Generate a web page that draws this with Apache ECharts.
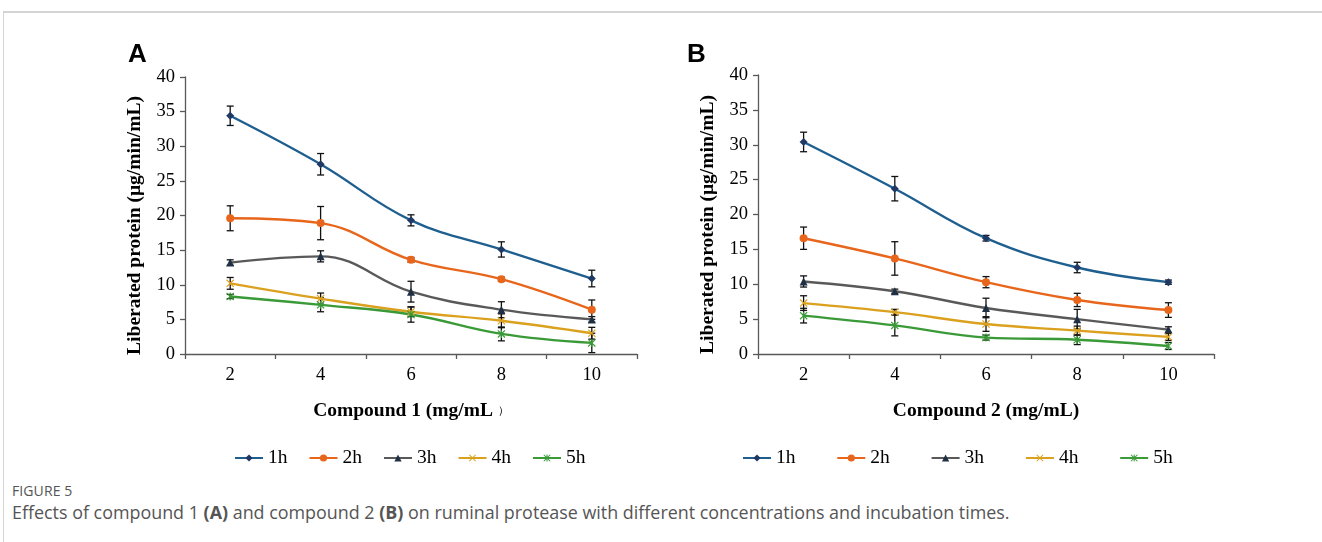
<!DOCTYPE html>
<html>
<head>
<meta charset="utf-8">
<script src="https://cdn.jsdelivr.net/npm/echarts@6/dist/echarts.min.js"></script>
<style>
  html, body { margin: 0; padding: 0; background: #fff; }
  #frame { position: absolute; left: 3px; top: 11px; width: 1330px; height: 540px;
           border-top: 2px solid #d4d4d4; border-left: 1px solid #d4d4d4; }
  #chart { position: absolute; left: 0; top: 0; width: 1322px; height: 475px; }
  #caption { position: absolute; left: 12px; top: 481px; font-family: 'Open Sans', sans-serif; color: #555; }
  #caption .fig { font-size: 14px; letter-spacing: 0.1px; }
  #caption .txt { font-size: 17.9px; margin-top: 0px; }
</style>
</head>
<body>
<div id="frame"></div>
<div id="chart"></div>
<div id="caption">
  <div class="fig">FIGURE 5</div>
  <div class="txt">Effects of compound 1 <b>(A)</b> and compound 2 <b>(B)</b> on ruminal protease with different concentrations and incubation times.</div>
</div>
<script>
const categories = ['2', '4', '6', '8', '10'];
const seriesNames = ['1h', '2h', '3h', '4h', '5h'];

// compound 1 (panel A): means and error bar half-lengths
const c1Mean1h = [34.4, 27.4, 19.3, 15.1, 10.9];
const c1Err1h = [1.4, 1.55, 0.8, 1.1, 1.2];
const c1Mean2h = [19.6, 18.9, 13.6, 10.8, 6.4];
const c1Err2h = [1.8, 2.4, 0.35, 0.3, 1.4];
const c1Mean3h = [13.2, 14.1, 9.0, 6.4, 5.0];
const c1Err3h = [0.4, 0.8, 1.5, 1.15, 0.4];
const c1Mean4h = [10.2, 8.0, 6.1, 4.8, 3.0];
const c1Err4h = [0.85, 0.8, 0.7, 1.0, 0.85];
const c1Mean5h = [8.3, 7.1, 5.7, 2.9, 1.6];
const c1Err5h = [0.3, 1.0, 1.1, 1.0, 1.4];

// compound 2 (panel B)
const c2Mean1h = [30.4, 23.7, 16.6, 12.4, 10.3];
const c2Err1h = [1.4, 1.75, 0.4, 0.75, 0.3];
const c2Mean2h = [16.6, 13.7, 10.3, 7.75, 6.3];
const c2Err2h = [1.6, 2.4, 0.8, 0.95, 1.05];
const c2Mean3h = [10.4, 9.0, 6.6, 5.0, 3.5];
const c2Err3h = [0.8, 0.3, 1.4, 1.4, 0.4];
const c2Mean4h = [7.3, 6.0, 4.3, 3.35, 2.45];
const c2Err4h = [1.05, 0.4, 1.05, 0.65, 0.5];
const c2Mean5h = [5.5, 4.1, 2.35, 2.05, 1.15];
const c2Err5h = [1.05, 1.5, 0.35, 0.7, 0.5];

const serif = "'Times New Roman', 'Liberation Serif', serif";
const xShape = 'path://M0,1L1,0L5,4L9,0L10,1L6,5L10,9L9,10L5,6L1,10L0,9L4,5Z';
const starShape = 'path://M0,1L1,0L5,4L9,0L10,1L6,5L10,9L9,10L5,6L1,10L0,9L4,5Z M4.3,0L5.7,0L5.7,10L4.3,10Z';

const styles = [
  { line: '#1f5f8f', marker: '#1f3864', symbol: 'diamond', size: 8 },
  { line: '#e8661c', marker: '#e8661c', symbol: 'circle', size: 8 },
  { line: '#595959', marker: '#1f2f44', symbol: 'triangle', size: 8 },
  { line: '#dba11e', marker: '#dba11e', symbol: xShape, size: 8 },
  { line: '#3a9a38', marker: '#3a9a38', symbol: starShape, size: 8 }
];

function lineSeries(idx, k, means) {
  const s = styles[k];
  return {
    name: seriesNames[k],
    type: 'line',
    xAxisIndex: idx,
    yAxisIndex: idx,
    smooth: 0.4,
    symbol: s.symbol,
    symbolSize: s.size,
    showAllSymbol: true,
    lineStyle: { color: s.line, width: 2.4 },
    itemStyle: { color: s.marker },
    z: 3,
    data: means
  };
}

function errorSeries(idx, means, errs) {
  return {
    type: 'custom',
    xAxisIndex: idx,
    yAxisIndex: idx,
    silent: true,
    z: 2,
    data: means.map((m, i) => [i, m - errs[i], m + errs[i]]),
    encode: { x: 0, y: [1, 2] },
    renderItem: function (params, api) {
      const lo = api.coord([api.value(0), api.value(1)]);
      const hi = api.coord([api.value(0), api.value(2)]);
      const w = 3.5;
      const style = { stroke: '#111', lineWidth: 1.3, fill: null };
      return {
        type: 'group',
        children: [
          { type: 'line', shape: { x1: lo[0], y1: lo[1], x2: hi[0], y2: hi[1] }, style: style },
          { type: 'line', shape: { x1: lo[0] - w, y1: lo[1], x2: lo[0] + w, y2: lo[1] }, style: style },
          { type: 'line', shape: { x1: hi[0] - w, y1: hi[1], x2: hi[0] + w, y2: hi[1] }, style: style }
        ]
      };
    }
  };
}

function xAxisFor(idx, name) {
  return {
    type: 'category',
    gridIndex: idx,
    data: categories,
    boundaryGap: true,
    axisLine: { lineStyle: { color: '#595959', width: 1.3 } },
    axisTick: { show: true, length: 5, lineStyle: { color: '#595959', width: 1.3 } },
    axisLabel: { color: '#000', fontFamily: serif, fontSize: 18.5, margin: 12 },
    name: name,
    nameLocation: 'middle',
    nameGap: 47,
    nameTextStyle: {
      color: '#000', fontFamily: serif, fontSize: 19.5, fontWeight: 'bold',
      rich: { s: { fontSize: 11, fontWeight: 'normal', color: '#000' } }
    }
  };
}

function yAxisFor(idx) {
  return {
    type: 'value',
    gridIndex: idx,
    min: 0,
    max: 40,
    interval: 5,
    splitLine: { show: false },
    axisLine: { show: true, lineStyle: { color: '#595959', width: 1.3 } },
    axisTick: { show: true, length: 5, lineStyle: { color: '#595959', width: 1.3 } },
    axisLabel: { color: '#000', fontFamily: serif, fontSize: 18.5, margin: 10 },
    name: 'Liberated protein (μg/min/mL)',
    nameLocation: 'middle',
    nameRotate: 90,
    nameGap: 40,
    nameTextStyle: { color: '#000', fontFamily: serif, fontSize: 19.5, fontWeight: 'bold', padding: [0, 20, 0, 0] }
  };
}

function legendFor(left, gap) {
  return {
    data: seriesNames,
    left: left,
    top: 443,
    itemGap: gap,
    itemWidth: 28,
    itemHeight: 9,
    selectedMode: false,
    textStyle: { color: '#000', fontFamily: serif, fontSize: 19.5 }
  };
}

const myChart = echarts.init(document.getElementById('chart'));
const option = {
  animation: false,
  title: [
    { text: 'A', left: 123, top: 37, textStyle: { fontFamily: 'Liberation Sans, Arial', fontWeight: 'bold', fontSize: 26, color: '#000' } },
    { text: 'B', left: 682, top: 37, textStyle: { fontFamily: 'Liberation Sans, Arial', fontWeight: 'bold', fontSize: 26, color: '#000' } }
  ],
  grid: [
    { left: 185, top: 77, width: 452, height: 277 },
    { left: 758, top: 75, width: 456, height: 279 }
  ],
  xAxis: [
    xAxisFor(0, 'Compound 1 (mg/mL {s|）}'),
    xAxisFor(1, 'Compound 2 (mg/mL)')
  ],
  yAxis: [yAxisFor(0), yAxisFor(1)],
  legend: [legendFor(229, 21), legendFor(737, 40.8)],
  series: [
    errorSeries(0, c1Mean1h, c1Err1h),
    errorSeries(0, c1Mean2h, c1Err2h),
    errorSeries(0, c1Mean3h, c1Err3h),
    errorSeries(0, c1Mean4h, c1Err4h),
    errorSeries(0, c1Mean5h, c1Err5h),
    lineSeries(0, 0, c1Mean1h),
    lineSeries(0, 1, c1Mean2h),
    lineSeries(0, 2, c1Mean3h),
    lineSeries(0, 3, c1Mean4h),
    lineSeries(0, 4, c1Mean5h),
    errorSeries(1, c2Mean1h, c2Err1h),
    errorSeries(1, c2Mean2h, c2Err2h),
    errorSeries(1, c2Mean3h, c2Err3h),
    errorSeries(1, c2Mean4h, c2Err4h),
    errorSeries(1, c2Mean5h, c2Err5h),
    lineSeries(1, 0, c2Mean1h),
    lineSeries(1, 1, c2Mean2h),
    lineSeries(1, 2, c2Mean3h),
    lineSeries(1, 3, c2Mean4h),
    lineSeries(1, 4, c2Mean5h)
  ]
};
myChart.setOption(option);
</script>
</body>
</html>
